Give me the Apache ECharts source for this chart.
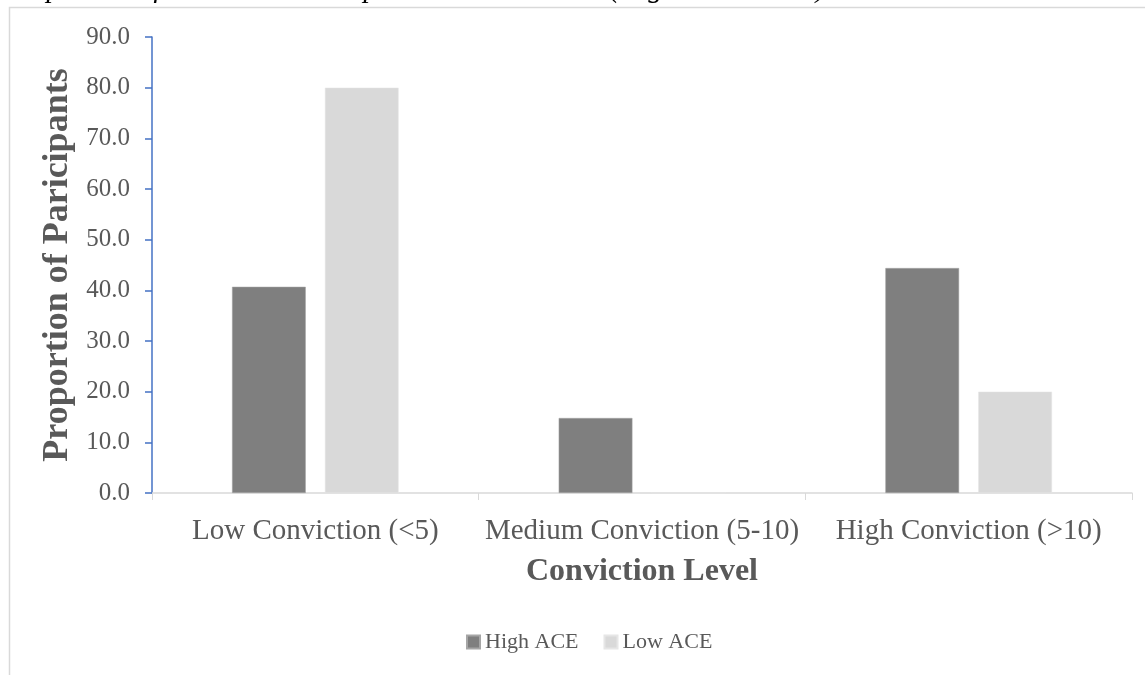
<!DOCTYPE html>
<html><head><meta charset="utf-8">
<script src="https://cdn.jsdelivr.net/npm/echarts@6/dist/echarts.min.js"></script>
<style>html,body{margin:0;padding:0;background:#fff}#c{width:1145px;height:675px}</style>
</head><body><div id="c"></div>
<script>
const categories = ['Low Conviction (<5)', 'Medium Conviction (5-10)', 'High Conviction (>10)'];
const highACE = [40.7, 14.8, 44.4];
const lowACE = [80.0, 0.0, 20.0];
const seriesNames = ['High ACE', 'Low ACE'];
const yTicks = {min: 0, max: 90, interval: 10};

const chart = echarts.init(document.getElementById('c'));
const serif = '"Liberation Serif", "Times New Roman", serif';
chart.setOption({
  animation: false,
  title: {
    text: 'Proportion of Conviction Groups across ACE score (High versus Low)',
    left: 4, top: -25, padding: 0,
    textStyle: {fontFamily: serif, fontStyle: 'italic', fontWeight: 'normal', fontSize: 29, color: '#000'}
  },
  graphic: [{
    type: 'polyline',
    shape: {points: [[9.5, 675], [9.5, 7.5], [1145, 7.5]]},
    style: {stroke: '#d9d9d9', lineWidth: 1.5, fill: null},
    silent: true
  }],
  legend: {
    data: seriesNames,
    top: 626, left: 461,
    itemWidth: 13, itemHeight: 13, itemGap: 25,
    textStyle: {fontFamily: serif, fontSize: 22, color: '#595959'},
    icon: 'rect'
  },
  grid: {left: 152, right: 13, top: 37, bottom: 182, containLabel: false},
  xAxis: {
    type: 'category', data: categories,
    name: 'Conviction Level', nameLocation: 'middle', nameGap: 63,
    nameTextStyle: {fontFamily: serif, fontSize: 32, fontWeight: 'bold', color: '#595959'},
    axisLine: {lineStyle: {color: '#d9d9d9', width: 1.5}},
    axisTick: {show: true, interval: 0, length: 7, lineStyle: {color: '#d9d9d9'}},
    axisLabel: {fontFamily: serif, fontSize: 29, color: '#595959', margin: 24, interval: 0}
  },
  yAxis: {
    type: 'value', min: yTicks.min, max: yTicks.max, interval: yTicks.interval,
    name: 'Proportion of Paricipants', nameLocation: 'middle', nameGap: 70,
    nameTextStyle: {fontFamily: serif, fontSize: 36, fontWeight: 'bold', color: '#595959'},
    axisLine: {show: true, lineStyle: {color: '#4472C4', width: 1.5}},
    axisTick: {show: true, length: 7, lineStyle: {color: '#4472C4', width: 1.5}},
    splitLine: {show: false},
    axisLabel: {fontFamily: serif, fontSize: 25, color: '#595959', margin: 22,
      formatter: v => v.toFixed(1)}
  },
  series: [
    {name: seriesNames[0], type: 'bar', data: highACE, barGap: '26%', barCategoryGap: '49%',
     itemStyle: {color: '#7f7f7f', borderColor: '#a6a6a6', borderWidth: 0.5}},
    {name: seriesNames[1], type: 'bar', data: lowACE,
     itemStyle: {color: '#d9d9d9', borderColor: '#e6e6e6', borderWidth: 0.5}}
  ]
});
</script></body></html>
